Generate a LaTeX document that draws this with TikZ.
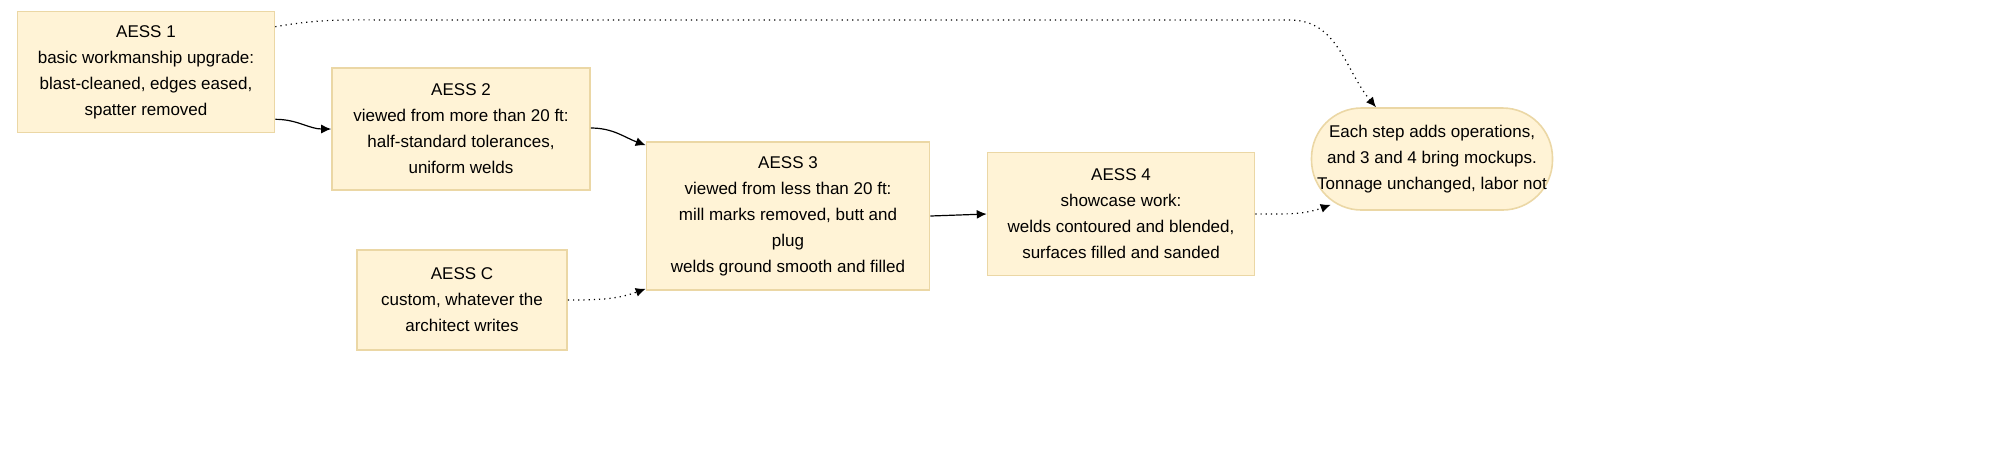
\documentclass[tikz,border=0pt]{standalone}
\usepackage{fontspec}
\setmainfont{Liberation Sans}
\usetikzlibrary{arrows.meta,positioning}
\definecolor{boxfill}{RGB}{255,243,214}
\definecolor{boxline}{RGB}{235,215,165}
\tikzset{
  stage/.style={draw=boxline, fill=boxfill, line width=0.8pt, align=center,
    font=\fontsize{8.5}{13}\selectfont, inner sep=0pt},
  flow/.style={-{Latex[length=5pt,width=4.5pt]}, line width=0.6pt},
  soft/.style={flow, dotted}
}
\begin{document}
\begin{tikzpicture}[x=0.5pt, y=-0.5pt]

    \node [stage, minimum width=128.5pt, minimum height=60.5pt] at (146,72) (a1) {AESS 1\\basic workmanship upgrade:\\blast-cleaned, edges eased,\\spatter removed};
    \node [stage, minimum width=129pt, minimum height=61pt] at (461,129) (a2) {AESS 2\\viewed from more than 20 ft:\\half-standard tolerances,\\uniform welds};
    \node [stage, minimum width=141.5pt, minimum height=74pt] at (788,216) (a3) {AESS 3\\viewed from less than 20 ft:\\mill marks removed, butt and\\plug\\welds ground smooth and filled};
    \node [stage, minimum width=105pt, minimum height=50pt] at (462,300) (ac) {AESS C\\custom, whatever the\\architect writes};
    \node [stage, minimum width=133.5pt, minimum height=61.5pt] at (1121,214) (a4) {AESS 4\\showcase work:\\welds contoured and blended,\\surfaces filled and sanded};
    \node [stage, rounded corners=25pt, minimum width=120.5pt, minimum height=51pt] at (1432,159) (end) {Each step adds operations,\\and 3 and 4 bring mockups.\\Tonnage unchanged, labor not};

    \coordinate (topL) at (400,20);
    \coordinate (topR) at (1290,20);

    \path [flow, draw] ([yshift=7pt]a1.south east) to[out=0,in=180] (a2.west);
    \path [flow, draw] ([yshift=0.5pt]a2.east) to[out=0,in=160] ([yshift=-2pt]a3.north west);
    \path [soft, draw] (ac.east) to[out=0,in=200] ([yshift=1pt]a3.south west);
    \path [flow, draw] (a3.east) -- (a4.west);
    \path [soft, draw] (a4.east) to[out=0,in=200] ([xshift=10pt,yshift=3pt]end.south west);
    \path [soft, draw] ([yshift=-8pt]a1.north east) to[out=10,in=180] (topL) -- (topR) to[out=0,in=130] ([xshift=-28pt]end.north);

    \pgfresetboundingbox
    \path (0,0) rectangle (2000,463);
\end{tikzpicture}
\end{document}
